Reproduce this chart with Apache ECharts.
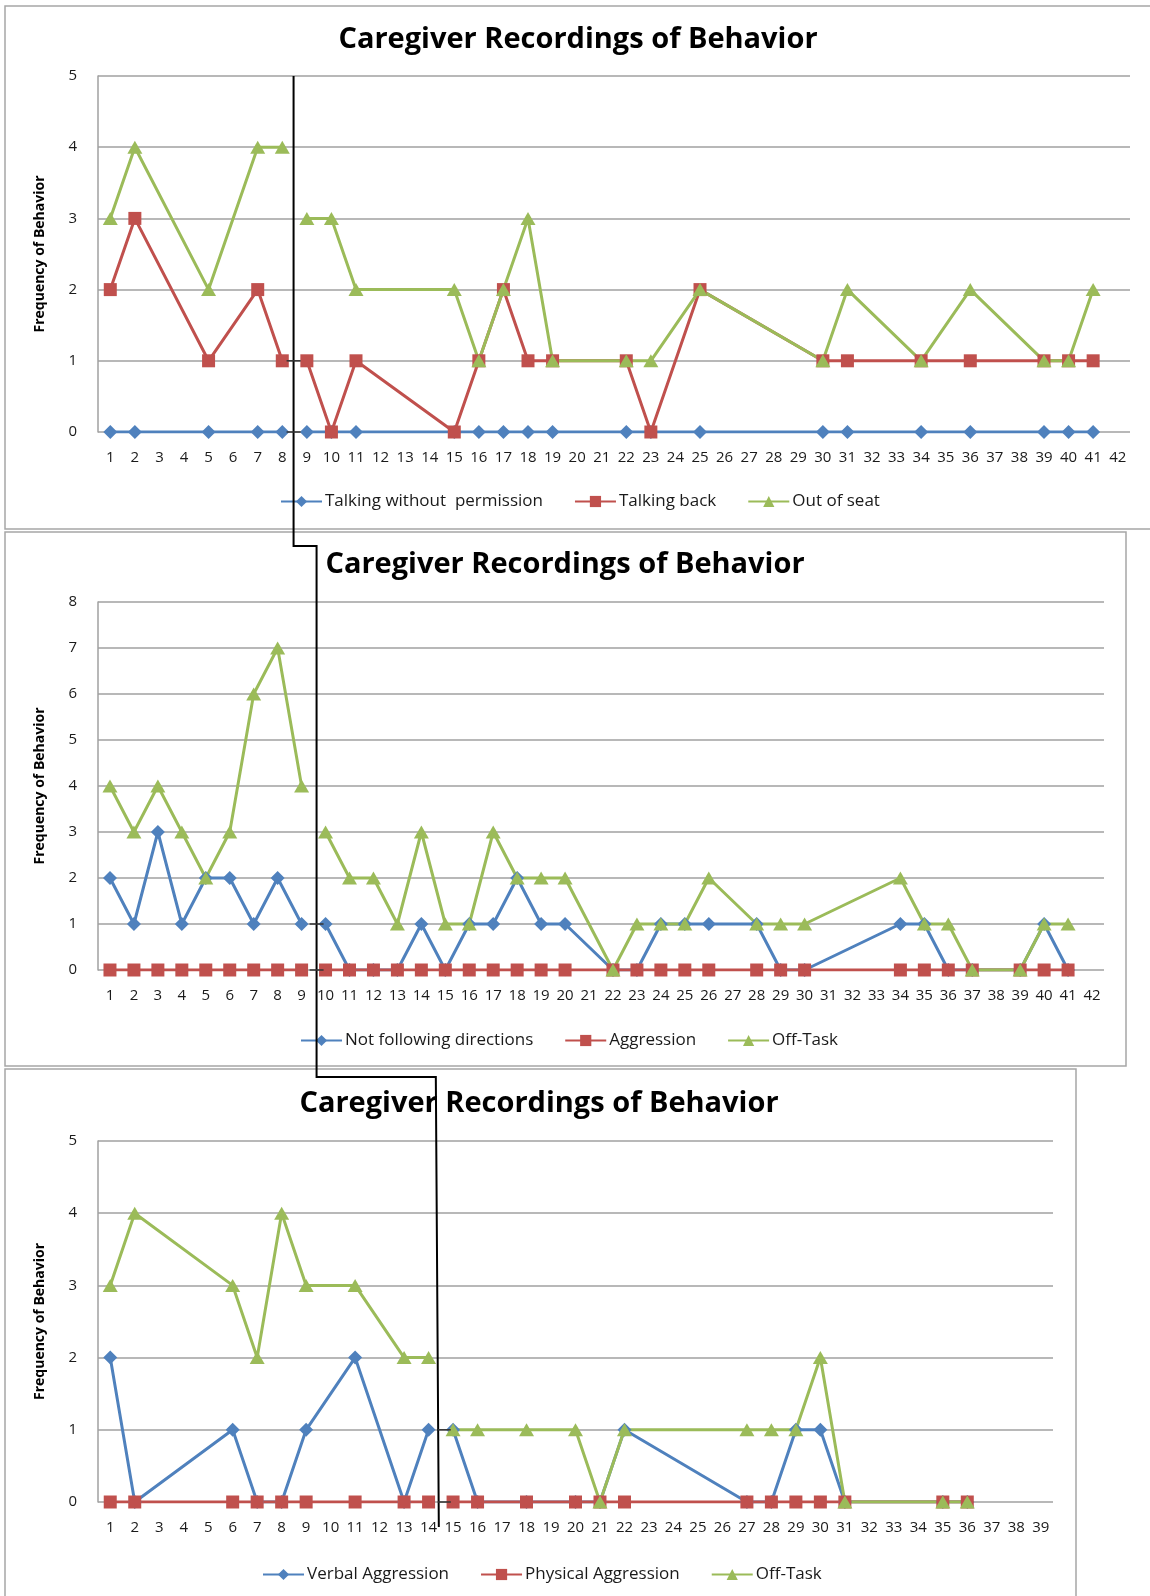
<!DOCTYPE html>
<html><head><meta charset="utf-8">
<script src="https://cdn.jsdelivr.net/npm/echarts@6/dist/echarts.min.js"></script>
<style>html,body{margin:0;padding:0;background:#fff}#c{width:1150px;height:1596px}</style>
</head><body><div id="c"></div>
<script>
// ---------- DATA ----------
const titleText = 'Caregiver Recordings of Behavior';
const yAxisTitle = 'Frequency of Behavior';

const days1 = ['1','2','3','4','5','6','7','8','9','10','11','12','13','14','15','16','17','18','19','20','21','22','23','24','25','26','27','28','29','30','31','32','33','34','35','36','37','38','39','40','41','42'];
const names1 = ['Talking without  permission', 'Talking back', 'Out of seat'];
const talkingWithout = [0,0,null,null,0,null,0,0,0,0,0,null,null,null,0,0,0,0,0,null,null,0,0,null,0,null,null,null,null,0,0,null,null,0,null,0,null,null,0,0,0,null];
const talkingBack    = [2,3,null,null,1,null,2,1,1,0,1,null,null,null,0,1,2,1,1,null,null,1,0,null,2,null,null,null,null,1,1,null,null,1,null,1,null,null,1,1,1,null];
const outOfSeat      = [3,4,null,null,2,null,4,4,3,3,2,null,null,null,2,1,2,3,1,null,null,1,1,null,2,null,null,null,null,1,2,null,null,1,null,2,null,null,1,1,2,null];
const phase2Start1 = 8; // index of day 9

const days2 = ['1','2','3','4','5','6','7','8','9','10','11','12','13','14','15','16','17','18','19','20','21','22','23','24','25','26','27','28','29','30','31','32','33','34','35','36','37','38','39','40','41','42'];
const names2 = ['Not following directions', 'Aggression', 'Off-Task'];
const notFollowing = [2,1,3,1,2,2,1,2,1,1,0,0,0,1,0,1,1,2,1,1,null,0,0,1,1,1,null,1,0,0,null,null,null,1,1,0,0,null,0,1,0,null];
const aggression   = [0,0,0,0,0,0,0,0,0,0,0,0,0,0,0,0,0,0,0,0,null,0,0,0,0,0,null,0,0,0,null,null,null,0,0,0,0,null,0,0,0,null];
const offTask2     = [4,3,4,3,2,3,6,7,4,3,2,2,1,3,1,1,3,2,2,2,null,0,1,1,1,2,null,1,1,1,null,null,null,2,1,1,0,null,0,1,1,null];
const phase2Start2 = 9; // index of day 10

const days3 = ['1','2','3','4','5','6','7','8','9','10','11','12','13','14','15','16','17','18','19','20','21','22','23','24','25','26','27','28','29','30','31','32','33','34','35','36','37','38','39'];
const names3 = ['Verbal Aggression', 'Physical Aggression', 'Off-Task'];
const verbalAggr   = [2,0,null,null,null,1,0,0,1,null,2,null,0,1,1,0,null,0,null,0,0,1,null,null,null,null,0,0,1,1,0,null,null,null,0,0,null,null,null];
const physicalAggr = [0,0,null,null,null,0,0,0,0,null,0,null,0,0,0,0,null,0,null,0,0,0,null,null,null,null,0,0,0,0,0,null,null,null,0,0,null,null,null];
const offTask3     = [3,4,null,null,null,3,2,4,3,null,3,null,2,2,1,1,null,1,null,1,0,1,null,null,null,null,1,1,1,2,0,null,null,null,0,0,null,null,null];
const phase2Start3 = 14; // index of day 15

const yMax = [5, 8, 5];

// ---------- STYLE ----------
const BLUE = '#4F81BD', RED = '#C0504D', GREEN = '#9BBB59';
const GRID_COLOR = '#a0a0a0';
const FONT = "'Open Sans', 'DejaVu Sans', sans-serif";
const styles = [
  {color: BLUE, symbol: 'diamond', symbolSize: [14, 14]},
  {color: RED, symbol: 'rect', symbolSize: [13, 13]},
  {color: GREEN, symbol: 'triangle', symbolSize: [15, 13]}
];

function phaseSeries(name, values, split, gi, st) {
  const p1 = values.map((v, i) => i < split ? v : null);
  const p2 = values.map((v, i) => i >= split ? v : null);
  return [p1, p2].map(d => ({
    type: 'line', name: name, xAxisIndex: gi, yAxisIndex: gi, data: d,
    connectNulls: true, showAllSymbol: true,
    symbol: st.symbol, symbolSize: st.symbolSize,
    itemStyle: {color: st.color, borderWidth: 0},
    lineStyle: {color: st.color, width: 3},
    emphasis: {disabled: true}, silent: true
  }));
}

const charts = [
  {days: days1, names: names1, vals: [talkingWithout, talkingBack, outOfSeat], split: phase2Start1},
  {days: days2, names: names2, vals: [notFollowing, aggression, offTask2], split: phase2Start2},
  {days: days3, names: names3, vals: [verbalAggr, physicalAggr, offTask3], split: phase2Start3}
];

const grids = [
  {left: 98, top: 76, width: 1032, height: 356},
  {left: 98, top: 602, width: 1006, height: 368},
  {left: 98, top: 1141, width: 955, height: 361}
];
const titleCenters = [[578, 25], [565, 550], [539, 1089]];
const legendPos = [[280, 493], [300, 1032], [262, 1566]];

const series = [];
charts.forEach((c, gi) => {
  c.vals.forEach((v, k) => series.push(...phaseSeries(c.names[k], v, c.split, gi, styles[k])));
});

const option = {
  animation: false,
  backgroundColor: '#fff',
  title: titleCenters.map(p => ({
    text: titleText, left: p[0], top: p[1], textAlign: 'center', padding: 0,
    textStyle: {fontFamily: FONT, fontWeight: 'bold', fontSize: 29, color: '#000'}
  })),
  legend: charts.map((c, gi) => ({
    data: c.names, left: legendPos[gi][0], top: legendPos[gi][1], itemGap: 31,
    itemWidth: 41, itemHeight: 14, selectedMode: false, padding: 0,
    textStyle: {fontFamily: FONT, fontSize: 17, color: '#1a1a1a', padding: [0, 0, 0, -2]}
  })),
  grid: grids.map(g => Object.assign({containLabel: false}, g)),
  xAxis: charts.map((c, gi) => ({
    type: 'category', gridIndex: gi, data: c.days, boundaryGap: true,
    axisLine: {show: false}, axisTick: {show: false},
    axisLabel: {interval: 0, margin: 18, fontFamily: FONT, fontSize: 15, color: '#1a1a1a'}
  })),
  yAxis: charts.map((c, gi) => ({
    type: 'value', gridIndex: gi, min: 0, max: yMax[gi], interval: 1,
    name: yAxisTitle, nameLocation: 'middle', nameGap: 51, nameRotate: 90,
    nameTextStyle: {fontFamily: FONT, fontWeight: 'bold', fontSize: 14, color: '#000'},
    axisLine: {show: true, lineStyle: {color: GRID_COLOR, width: 1.5}},
    axisTick: {show: false},
    splitLine: {show: true, lineStyle: {color: GRID_COLOR, width: 1.5}},
    axisLabel: {margin: 21, fontFamily: FONT, fontSize: 15, color: '#1a1a1a'}
  })),
  series: series
};

const chart = echarts.init(document.getElementById('c'), null, {renderer: 'canvas'});
chart.setOption(option);

// ---------- annotations (chart frames + phase-change line) ----------
function px(gi, cat, val) {
  return chart.convertToPixel({xAxisIndex: gi, yAxisIndex: gi}, [cat, val]);
}
function midX(gi, split) {
  return (px(gi, split - 1, 0)[0] + px(gi, split, 0)[0]) / 2;
}
const x1 = midX(0, phase2Start1) - 1, x2 = midX(1, phase2Start2) + 3, x3 = midX(2, phase2Start3) - 5;
const yTop = px(0, 0, yMax[0])[1];
const yStep1 = px(1, 0, yMax[1])[1] - 56;
const yStep2 = px(2, 0, yMax[2])[1] - 64;
const yEnd = px(2, 0, 0)[1] + 25;

const boxStyle = {fill: 'none', stroke: '#a6a6a6', lineWidth: 1.5};
const lineStyle = {stroke: '#000', lineWidth: 2, fill: 'none'};
const tickStyle = {stroke: '#333', lineWidth: 1.5};
const elements = [
  {type: 'rect', shape: {x: 5, y: 6, width: 1160, height: 523}, style: boxStyle, silent: true},
  {type: 'rect', shape: {x: 5, y: 532, width: 1121, height: 534}, style: boxStyle, silent: true},
  {type: 'rect', shape: {x: 5, y: 1069, width: 1071, height: 600}, style: boxStyle, silent: true},
  {type: 'polyline', shape: {points: [[x1, yTop], [x1, yStep1], [x2, yStep1], [x2, yStep2], [x3, yStep2], [x3 + 3, yEnd]]}, style: lineStyle, silent: true, z: 100}
];
[[0, x1, -7, 7], [1, x2, -7, 7], [2, x3 + 2, 0, 13]].forEach(([gi, x, a, b]) => {
  [0, 1].forEach(v => {
    const y = px(gi, 0, v)[1];
    elements.push({type: 'line', shape: {x1: x + a, y1: y, x2: x + b, y2: y}, style: tickStyle, silent: true, z: 100});
  });
});
chart.setOption({graphic: {elements: elements}});
</script>
</body></html>
